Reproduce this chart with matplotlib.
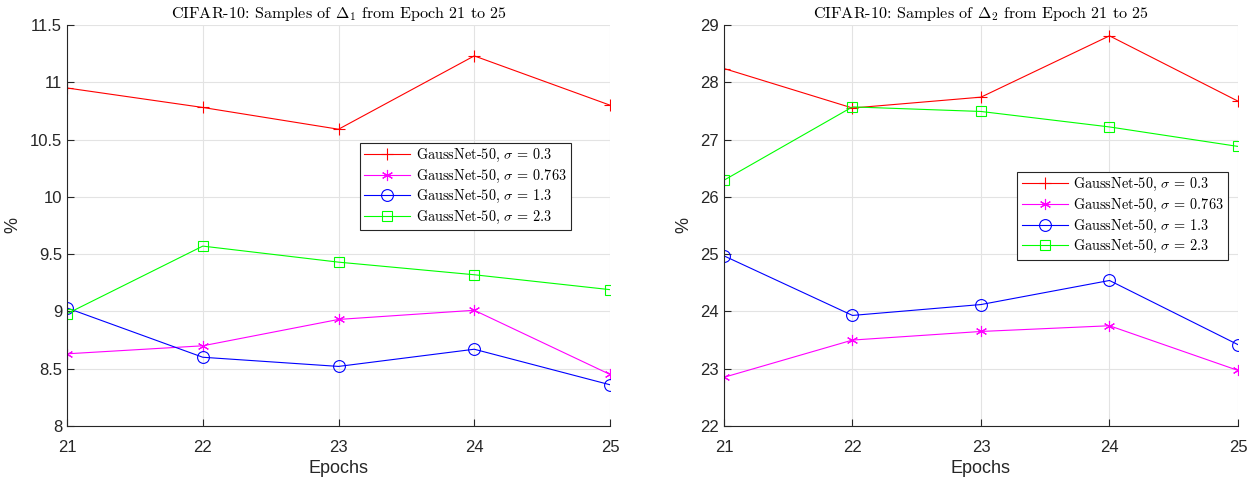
import matplotlib
matplotlib.use('Agg')
import matplotlib.pyplot as plt

plt.rcParams['mathtext.fontset'] = 'cm'
plt.rcParams['font.family'] = ['Liberation Sans', 'DejaVu Sans']

epochs = [21, 22, 23, 24, 25]
sigmas = ['0.3', '0.763', '1.3', '2.3']

# Delta_1 values (%)
d1_s03 = [10.95, 10.78, 10.59, 11.23, 10.80]
d1_s0763 = [8.63, 8.70, 8.93, 9.01, 8.45]
d1_s13 = [9.03, 8.60, 8.52, 8.67, 8.36]
d1_s23 = [8.98, 9.57, 9.43, 9.32, 9.19]

# Delta_2 values (%)
d2_s03 = [28.24, 27.55, 27.74, 28.81, 27.67]
d2_s0763 = [22.85, 23.50, 23.65, 23.75, 22.97]
d2_s13 = [24.97, 23.93, 24.12, 24.54, 23.42]
d2_s23 = [26.29, 27.57, 27.49, 27.22, 26.88]

colors = ['#ff0000', '#ff00ff', '#0000ff', '#00ff00']
markers = ['+', (6, 2, 0), 'o', 's']
msizes = [9, 8, 8.5, 7]

fig = plt.figure(figsize=(12.51, 4.8), dpi=100)
ax1 = fig.add_axes([0.0536, 0.1125, 0.434, 0.8355])
ax2 = fig.add_axes([0.5787, 0.1125, 0.4109, 0.8355])


def draw(ax, series, title, ylim, yticks, yticklabels, leg_anchor):
    for vals, c, m, ms, s in zip(series, colors, markers, msizes, sigmas):
        ax.plot(epochs, vals, color=c, marker=m, markersize=ms, lw=0.8,
                markerfacecolor='none', markeredgecolor=c, markeredgewidth=0.8,
                label='GaussNet-50, $\\sigma$ = ' + s)
    ax.set_xlim(21, 25)
    ax.set_ylim(*ylim)
    ax.set_xticks(epochs)
    ax.set_yticks(yticks)
    ax.set_yticklabels(yticklabels)
    ax.grid(True, color='#e3e3e3', lw=0.8)
    ax.set_axisbelow(True)
    for sp in ['top', 'right']:
        ax.spines[sp].set_visible(False)
    for sp in ['left', 'bottom']:
        ax.spines[sp].set_color('#262626')
        ax.spines[sp].set_linewidth(0.8)
    ax.tick_params(direction='in', labelsize=12, colors='#262626', length=5, width=0.8)
    ax.tick_params(axis='x', pad=10)
    ax.set_title(title, family='cmr10', fontsize=11.6, pad=5)
    ax.set_xlabel('Epochs', fontsize=13, color='#262626', labelpad=4)
    ax.set_ylabel('%', fontsize=13, color='#262626', labelpad=6)
    leg = ax.legend(loc='upper right', bbox_to_anchor=leg_anchor, fancybox=False,
                    prop={'family': 'cmr10', 'size': 10.3}, handlelength=3.2,
                    borderpad=0.3, labelspacing=0.25, handletextpad=0.4,
                    borderaxespad=0)
    leg.get_frame().set_edgecolor('#262626')
    leg.get_frame().set_linewidth(0.8)
    leg.get_frame().set_alpha(1)


draw(ax1, [d1_s03, d1_s0763, d1_s13, d1_s23],
     'CIFAR-10: Samples of $\\Delta_1$ from Epoch 21 to 25',
     (8, 11.5), [8, 8.5, 9, 9.5, 10, 10.5, 11, 11.5],
     ['8', '8.5', '9', '9.5', '10', '10.5', '11', '11.5'], (0.928, 0.706))
draw(ax2, [d2_s03, d2_s0763, d2_s13, d2_s23],
     'CIFAR-10: Samples of $\\Delta_2$ from Epoch 21 to 25',
     (22, 29), list(range(22, 30)), [str(v) for v in range(22, 30)], (0.981, 0.633))

fig.savefig('out.png', dpi=100)
